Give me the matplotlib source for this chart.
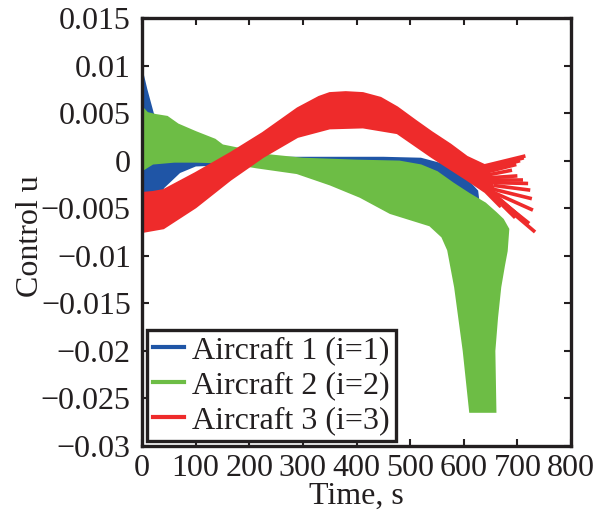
import matplotlib
matplotlib.use("Agg")
import matplotlib.pyplot as plt
import numpy as np

# ---------------- data ----------------
x_ticks = [0, 100, 200, 300, 400, 500, 600, 700, 800]
y_ticks = [-0.03, -0.025, -0.02, -0.015, -0.01, -0.005, 0, 0.005, 0.01, 0.015]
y_tick_labels = ["\u22120.03", "\u22120.025", "\u22120.02", "\u22120.015", "\u22120.01",
                 "\u22120.005", "0", "0.005", "0.01", "0.015"]
series_names = ["Aircraft 1 (i=1)", "Aircraft 2 (i=2)", "Aircraft 3 (i=3)"]

# Aircraft 1 band (upper and lower envelope of all trajectories)
a1_up_t = [0, 8, 20, 40, 70, 100, 150, 300, 450, 520, 560, 590, 612, 625]
a1_up_u = [0.0094, 0.0075, 0.0050, 0.0025, 0.0010, 0.0004, 0.0003, 0.0003, 0.0003,
           0.0002, -0.0004, -0.0014, -0.0024, -0.0032]
a1_lo_t = [0, 10, 20, 40, 70, 100, 150, 300, 450, 520, 560, 590, 610, 630]
a1_lo_u = [-0.0073, -0.0062, -0.0048, -0.0028, -0.0012, -0.0005, -0.0004, -0.0004,
           -0.0004, -0.0005, -0.0015, -0.0035, -0.0052, -0.0055]

# Aircraft 2 band
a2_up_t = [0, 10, 25, 47, 67, 100, 136, 150, 185, 230, 300, 400, 480, 520, 550,
           580, 610, 640, 660, 673, 683]
a2_up_u = [0.0056, 0.0050, 0.0048, 0.0046, 0.0038, 0.0030, 0.0022, 0.0016, 0.0012,
           0.0006, 0.0002, 0.0000, -0.0001, -0.0005, -0.0012, -0.0024, -0.0035,
           -0.0045, -0.0055, -0.0062, -0.0072]
a2_right_t = [680, 675, 668, 662, 657, 659]
a2_right_u = [-0.0095, -0.0110, -0.0133, -0.0165, -0.0200, -0.0264]
a2_lo_t = [0, 20, 60, 100, 160, 214, 289, 351, 407, 463, 537, 560, 571, 584, 600, 612]
a2_lo_u = [-0.0010, -0.0003, -0.0001, -0.0001, -0.0002, -0.0007, -0.0013, -0.0025,
           -0.0038, -0.0055, -0.0068, -0.0080, -0.0094, -0.0133, -0.0200, -0.0264]

# Aircraft 3 band
a3_up_t = [0, 20, 40, 100, 165, 225, 290, 330, 350, 380, 412, 445, 476, 510, 540,
           575, 606, 640]
a3_up_u = [-0.0034, -0.0033, -0.0031, -0.0013, 0.0008, 0.0029, 0.0055, 0.0067,
           0.0071, 0.0072, 0.0071, 0.0066, 0.0056, 0.0042, 0.0030, 0.0017, 0.0004,
           -0.0005]
a3_lo_t = [0, 40, 100, 165, 226, 290, 350, 412, 476, 540, 606, 640, 668]
a3_lo_u = [-0.0075, -0.0071, -0.0049, -0.0020, 0.0004, 0.0025, 0.0034, 0.0035,
           0.0029, 0.0004, -0.0020, -0.0033, -0.0049]
# Aircraft 3 trajectory ends that fan out of the band
a3_fork_t = [635, 638, 640, 642, 645, 648, 650, 652, 655, 655, 658, 660, 655, 652,
             650, 648, 645, 642]
a3_fork_u = [-0.0006, -0.0008, -0.0010, -0.0012, -0.0015, -0.0018, -0.0020,
             -0.0023, -0.0026, -0.0030, -0.0034, -0.0040, -0.0036, -0.0034,
             -0.0032, -0.0033, -0.0031, -0.0030]
a3_end_t = [715, 712, 705, 698, 690, 700, 710, 720, 724, 727, 729, 733, 722, 711,
            703, 696, 688, 681]
a3_end_u = [0.0005, 0.0003, 0.0000, -0.0004, -0.0010, -0.0016, -0.0020, -0.0024,
            -0.0031, -0.0040, -0.0052, -0.0075, -0.0066, -0.0062, -0.0058, -0.0060,
            -0.0055, -0.0050]

# ---------------- styling ----------------
blue = "#1f55a6"
green = "#6dbd45"
red = "#ee2b2b"
ink = "#231f20"
plt.rcParams["font.family"] = ["Liberation Serif", "DejaVu Serif"]
fs = 23

fig = plt.figure(figsize=(6.08, 5.13), dpi=100)
ax = fig.add_axes([142 / 608, 67 / 513, 429 / 608, 428 / 513])


def band(up_t, up_u, lo_t, lo_u, color, mid_t=(), mid_u=()):
    xs = list(up_t) + list(mid_t) + list(lo_t)[::-1]
    ys = list(up_u) + list(mid_u) + list(lo_u)[::-1]
    ax.fill(xs, ys, color=color, lw=1.5, ec=color, zorder=2)


band(a1_up_t, a1_up_u, a1_lo_t, a1_lo_u, blue)
band(a2_up_t, a2_up_u, a2_lo_t, a2_lo_u, green, a2_right_t, a2_right_u)
band(a3_up_t, a3_up_u, a3_lo_t, a3_lo_u, red)
for ft, fu, et, eu in zip(a3_fork_t, a3_fork_u, a3_end_t, a3_end_u):
    ax.plot([ft, et], [fu, eu], color=red, lw=2.6, solid_capstyle="butt", zorder=3)

# legend handles
for name, c in zip(series_names, [blue, green, red]):
    ax.plot([], [], color=c, lw=3, label=name)

ax.set_xlim(0, 800)
ax.set_ylim(-0.03, 0.015)
ax.set_xticks(x_ticks)
ax.set_xticklabels([str(v) for v in x_ticks])
ax.set_yticks(y_ticks)
ax.set_yticklabels(y_tick_labels)
ax.tick_params(direction="in", length=5, width=1.5, labelsize=fs,
               top=True, right=True, colors=ink)
ax.tick_params(axis="y", pad=8)
ax.tick_params(axis="x", pad=6)
for s in ax.spines.values():
    s.set_linewidth(2.4)
    s.set_color(ink)
    s.set_zorder(5)
ax.set_xlabel("Time, s", fontsize=fs, labelpad=-1, color=ink)
ax.set_ylabel("Control u", fontsize=fs, color=ink)
ax.yaxis.set_label_coords(-0.226, 0.49)

leg = ax.legend(loc="lower left", bbox_to_anchor=(0.0, 0.0), fontsize=fs,
                frameon=True, fancybox=False, edgecolor=ink, framealpha=1,
                handlelength=1.0, handletextpad=0.25, borderpad=0.18,
                labelspacing=0.18, borderaxespad=0.15)
leg.get_frame().set_linewidth(2.4)
for t in leg.get_texts():
    t.set_color(ink)

fig.savefig("out.png", dpi=100)
